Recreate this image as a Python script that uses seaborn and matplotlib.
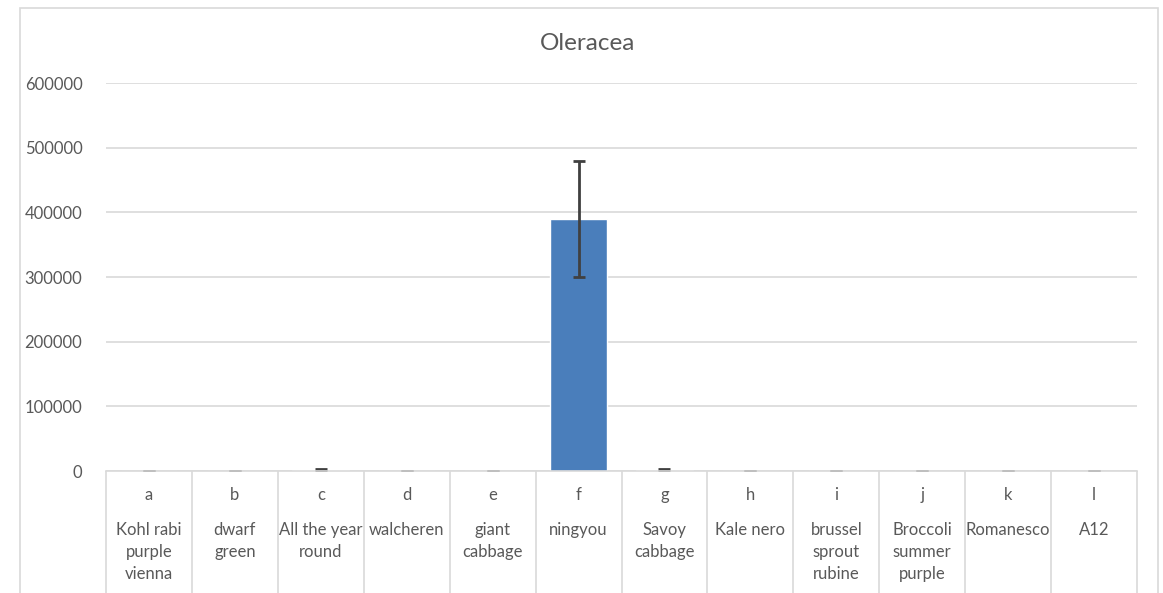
import seaborn as sns
import matplotlib.pyplot as plt
import pandas as pd
from matplotlib.patches import Rectangle

# data
letters = ["a", "b", "c", "d", "e", "f", "g", "h", "i", "j", "k", "l"]
names = ["Kohl rabi\npurple\nvienna", "dwarf\ngreen", "All the year\nround", "walcheren",
         "giant\ncabbage", "ningyou", "Savoy\ncabbage", "Kale nero", "brussel\nsprout\nrubine",
         "Broccoli\nsummer\npurple", "Romanesco", "A12"]
values = [400, 300, 1500, 300, 300, 390000, 1500, 300, 300, 300, 300, 300]
errors = [300, 300, 1200, 300, 300, 90000, 1200, 300, 300, 300, 300, 300]

df = pd.DataFrame({"letter": letters, "name": names, "value": values, "err": errors})

sns.set_theme(style="white")
plt.rcParams["font.family"] = ["Lato", "DejaVu Sans"]
grey = "#595959"
line = "#d9d9d9"

fig = plt.figure(figsize=(11.63, 5.93), dpi=100)
ax = fig.add_axes([106 / 1163, 122 / 593, 1031 / 1163, 388 / 593])

# outer chart border
fig.patches.append(Rectangle((20 / 1163, -0.1), 1138 / 1163, 1.1 - 8 / 593,
                             transform=fig.transFigure, fill=False, edgecolor=line, lw=1.2))

sns.barplot(data=df, x="letter", y="value", color="#4a7ebb", width=0.66,
            errorbar=None, saturation=1, ax=ax)
ax.errorbar(x=df["letter"], y=df["value"], yerr=df["err"], fmt="none",
            ecolor="#404040", elinewidth=2, capsize=4.5, capthick=2)

ax.set_ylim(0, 600000)
ax.set_xlim(-0.5, len(letters) - 0.5)
ax.set_yticks(range(0, 600001, 100000))
ax.yaxis.grid(True, color=line, lw=1.2)
ax.set_axisbelow(True)
for s in ["top", "right", "left"]:
    ax.spines[s].set_visible(False)
ax.spines["bottom"].set_color(line)
ax.spines["bottom"].set_linewidth(1.2)
ax.tick_params(axis="y", colors=grey, labelsize=12, length=0, pad=17)
ax.set_xticks([])
ax.set_xlabel("")
ax.set_ylabel("")

# multi-level category axis
trans = ax.get_xaxis_transform()
ax.vlines([i - 0.5 for i in range(len(letters) + 1)], -0.32, 0, transform=trans,
          colors=line, lw=1.2, clip_on=False)
for i, (l, n) in enumerate(zip(letters, names)):
    ax.text(i, -0.063, l, transform=trans, ha="center", va="center",
            color=grey, fontsize=12)
    ax.text(i, -0.132, n, transform=trans, ha="center", va="top",
            color=grey, fontsize=12, linespacing=1.45)

fig.text(588 / 1163, 1 - 43 / 593, "Oleracea", ha="center", va="center",
         color=grey, fontsize=17.5)

fig.savefig("out.png", dpi=100, facecolor="white")
